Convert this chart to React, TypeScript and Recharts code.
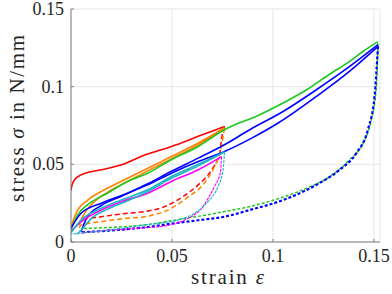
import React from 'react';
import { LineChart, Line, XAxis, YAxis, CartesianGrid, Label } from 'recharts';

// strain / stress samples, one pair of arrays per curve
const redLoadX = [0, 0.0003, 0.0017, 0.005, 0.015, 0.025, 0.0365, 0.0498, 0.063, 0.0761];
const redLoadY = [0.033, 0.0357, 0.04, 0.0432, 0.0465, 0.0497, 0.056, 0.0615, 0.068, 0.0744];
const redUnloadX = [0.0761, 0.0745, 0.0737, 0.0696, 0.063, 0.0563, 0.0464, 0.0365, 0.028, 0.015, 0.005, 0.004];
const redUnloadY = [0.0744, 0.066, 0.0574, 0.0465, 0.0368, 0.03, 0.0228, 0.0196, 0.0185, 0.0163, 0.0142, 0.012];

const orangeLoadX = [0, 0.0033, 0.0083, 0.018, 0.028, 0.038, 0.0497, 0.063, 0.076];
const orangeLoadY = [0.01, 0.0206, 0.027, 0.0346, 0.041, 0.0475, 0.055, 0.0637, 0.0734];
const orangeReloadX = [0.004, 0.006, 0.01, 0.018, 0.028, 0.038, 0.0497, 0.063, 0.076];
const orangeReloadY = [0.011, 0.017, 0.024, 0.032, 0.039, 0.0458, 0.0535, 0.0625, 0.0734];
const orangeUnloadX = [0.076, 0.0745, 0.071, 0.066, 0.058, 0.0497, 0.0365, 0.028, 0.015, 0.005, 0.004];
const orangeUnloadY = [0.0734, 0.0615, 0.0486, 0.0379, 0.029, 0.0217, 0.0163, 0.0153, 0.0131, 0.011, 0.009];

const greenLoadX = [0, 0.0033, 0.0083, 0.018, 0.028, 0.038, 0.0497, 0.063, 0.076, 0.08, 0.0918, 0.105, 0.1167, 0.128, 0.138, 0.1447, 0.152];
const greenLoadY = [0.008, 0.0174, 0.024, 0.0314, 0.039, 0.0443, 0.053, 0.0615, 0.0723, 0.0748, 0.081, 0.0895, 0.098, 0.108, 0.1163, 0.1228, 0.129];
const greenUnloadX = [0.152, 0.1512, 0.1487, 0.1447, 0.138, 0.128, 0.1167, 0.1033, 0.0885, 0.076, 0.063, 0.0497, 0.038, 0.018, 0.005];
const greenUnloadY = [0.128, 0.1, 0.0787, 0.0637, 0.053, 0.042, 0.0346, 0.0282, 0.0228, 0.0196, 0.0165, 0.0137, 0.0112, 0.0093, 0.0086];

const blueLoadX = [0, 0.005, 0.015, 0.025, 0.038, 0.0497, 0.063, 0.076, 0.0895, 0.1026, 0.1215, 0.138, 0.152];
const blueLoadY = [0.009, 0.0185, 0.025, 0.03, 0.0368, 0.0443, 0.0518, 0.0583, 0.0669, 0.0766, 0.0937, 0.11, 0.126];
const blueReloadX = [0.005, 0.008, 0.015, 0.025, 0.038, 0.0497, 0.063, 0.076, 0.0885, 0.105, 0.1215, 0.138, 0.152];
const blueReloadY = [0.0066, 0.016, 0.0235, 0.0295, 0.0375, 0.0455, 0.054, 0.0626, 0.0723, 0.084, 0.098, 0.113, 0.127];
const blueUnloadX = [0.152, 0.1503, 0.147, 0.1413, 0.133, 0.1215, 0.105, 0.0885, 0.076, 0.063, 0.0497, 0.0365, 0.018, 0.005];
const blueUnloadY = [0.126, 0.0937, 0.0723, 0.0572, 0.0465, 0.0368, 0.027, 0.0206, 0.0163, 0.014, 0.0118, 0.0094, 0.0073, 0.0062];

const magentaLoadX = [0, 0.005, 0.015, 0.025, 0.038, 0.0497, 0.063, 0.0745];
const magentaLoadY = [0.007, 0.013, 0.0206, 0.026, 0.0314, 0.039, 0.0465, 0.055];
const magentaUnloadX = [0.0745, 0.074, 0.071, 0.0646, 0.0563, 0.0464, 0.0365, 0.018, 0.005];
const magentaUnloadY = [0.055, 0.045, 0.0357, 0.0217, 0.0142, 0.0103, 0.0092, 0.0075, 0.0058];

const cyanLoadX = [0, 0.005, 0.015, 0.025, 0.038, 0.0497, 0.063, 0.076];
const cyanLoadY = [0.006, 0.0142, 0.0217, 0.0271, 0.0336, 0.0422, 0.05, 0.058];
const cyanReloadX = [0.003, 0.006, 0.01, 0.018, 0.028, 0.038, 0.0497, 0.063, 0.076];
const cyanReloadY = [0.005, 0.009, 0.015, 0.021, 0.0265, 0.0325, 0.041, 0.049, 0.058];
const cyanUnloadX = [0.076, 0.0753, 0.0728, 0.0678, 0.0612, 0.053, 0.043, 0.0365, 0.018, 0.005, 0];
const cyanUnloadY = [0.058, 0.0465, 0.0357, 0.026, 0.0185, 0.0142, 0.012, 0.011, 0.0075, 0.0058, 0.005];

const ticks = [0, 0.05, 0.1, 0.15];

const pts = (xs: number[], ys: number[]) => xs.map((x, i) => ({ x, y: ys[i] }));

const series = [
  { id: 'redLoad', data: pts(redLoadX, redLoadY), color: '#ff0000', width: 1.6 },
  { id: 'redUnload', data: pts(redUnloadX, redUnloadY), color: '#ff0000', width: 1.5, dash: '5 3' },
  { id: 'orangeLoad', data: pts(orangeLoadX, orangeLoadY), color: '#ff8000', width: 1.6 },
  { id: 'orangeReload', data: pts(orangeReloadX, orangeReloadY), color: '#ff8000', width: 1.6 },
  { id: 'orangeUnload', data: pts(orangeUnloadX, orangeUnloadY), color: '#ff8000', width: 1.5, dash: '5 3' },
  { id: 'greenLoad', data: pts(greenLoadX, greenLoadY), color: '#1ec81e', width: 1.6 },
  { id: 'greenUnload', data: pts(greenUnloadX, greenUnloadY), color: '#1ec81e', width: 1.5, dash: '3 2' },
  { id: 'blueLoad', data: pts(blueLoadX, blueLoadY), color: '#0000ff', width: 1.6 },
  { id: 'blueReload', data: pts(blueReloadX, blueReloadY), color: '#0000ff', width: 1.6 },
  { id: 'blueUnload', data: pts(blueUnloadX, blueUnloadY), color: '#0000ff', width: 2.2, dash: '3 2' },
  { id: 'magentaLoad', data: pts(magentaLoadX, magentaLoadY), color: '#ff00ff', width: 1.6 },
  { id: 'magentaUnload', data: pts(magentaUnloadX, magentaUnloadY), color: '#ff00ff', width: 1.1, dash: '3 1' },
  { id: 'cyanLoad', data: pts(cyanLoadX, cyanLoadY), color: '#1fb4c4', width: 1.6 },
  { id: 'cyanReload', data: pts(cyanReloadX, cyanReloadY), color: '#1fb4c4', width: 1.6 },
  { id: 'cyanUnload', data: pts(cyanUnloadX, cyanUnloadY), color: '#1fb4c4', width: 1.1, dash: '3 1' },
];

const FONT = 'Liberation Serif';
const txt = { fontFamily: FONT, fill: '#262626' };

const XTick = (props: any) => {
  const { x, y, payload } = props;
  return (
    <text x={x} y={y + 13} textAnchor="middle" fontSize={18} style={txt}>
      {String(payload.value)}
    </text>
  );
};

const YTick = (props: any) => {
  const { x, y, payload } = props;
  return (
    <text x={x} y={y + 6} textAnchor="end" fontSize={18} style={txt}>
      {String(payload.value)}
    </text>
  );
};

const XLabel = (props: any) => {
  const vb = props.viewBox || { x: 71, y: 242, width: 309 };
  return (
    <text x={vb.x + vb.width / 2 + 2} y={vb.y + 42} textAnchor="middle" fontSize={21} style={txt} textLength={73} lengthAdjust="spacing">
      strain <tspan fontStyle="italic">ε</tspan>
    </text>
  );
};

const YLabel = (props: any) => {
  const vb = props.viewBox || { x: 0, y: 9, height: 233 };
  const cx = 24;
  const cy = vb.y + vb.height / 2 - 7;
  return (
    <text x={cx} y={cy} transform={`rotate(-90, ${cx}, ${cy})`} textAnchor="middle" fontSize={21} style={txt} textLength={167} lengthAdjust="spacing">
      stress <tspan fontStyle="italic">σ</tspan> in N/mm
    </text>
  );
};

export default function App() {
  return (
    <div style={{ position: 'absolute', left: 0, top: 0, background: '#fff', fontFamily: FONT }}>
      <LineChart width={392} height={294} margin={{ top: 9, right: 12, bottom: 22, left: 0 }}>
        <CartesianGrid stroke="#e6e6e6" strokeWidth={1} />
        <XAxis
          type="number"
          dataKey="x"
          domain={[0, 0.153]}
          ticks={ticks}
          allowDataOverflow
          stroke="#808080"
          tick={<XTick />}
          tickSize={-3}
          tickMargin={10}
          height={30}
        >
          <Label content={<XLabel />} />
        </XAxis>
        <YAxis
          type="number"
          dataKey="y"
          domain={[0, 0.15]}
          ticks={ticks}
          allowDataOverflow
          stroke="#808080"
          tick={<YTick />}
          tickSize={-3}
          tickMargin={10}
          width={71}
        >
          <Label content={<YLabel />} />
        </YAxis>
        {series.map(s => (
          <Line
            key={s.id}
            data={s.data}
            dataKey="y"
            type="monotone"
            stroke={s.color}
            strokeWidth={s.width}
            strokeDasharray={s.dash}
            dot={false}
            activeDot={false}
            isAnimationActive={false}
          />
        ))}
      </LineChart>
    </div>
  );
}
